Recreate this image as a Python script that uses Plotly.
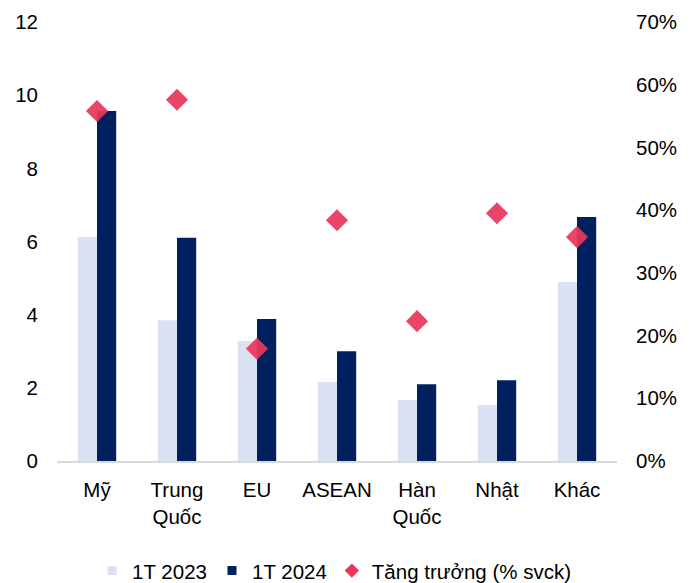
import plotly.graph_objects as go

categories = ["Mỹ", "Trung<br>Quốc", "EU", "ASEAN", "Hàn<br>Quốc", "Nhật", "Khác"]
v2023 = [6.12, 3.85, 3.28, 2.16, 1.67, 1.53, 4.89]
v2024 = [9.57, 6.10, 3.88, 3.00, 2.10, 2.21, 6.67]
growth = [0.558, 0.576, 0.179, 0.384, 0.223, 0.395, 0.357]
series_names = ["1T 2023", "1T 2024", "Tăng trưởng (% svck)"]

FONT = "Liberation Sans, Arial, sans-serif"
C23, C24, CG = "#D9E1F2", "#002060", "#E8375A"

fig = go.Figure()
fig.add_trace(go.Bar(x=categories, y=v2023, name=series_names[0], showlegend=False,
                     marker=dict(color=C23, line=dict(width=0))))
fig.add_trace(go.Bar(x=categories, y=v2024, name=series_names[1], showlegend=False,
                     marker=dict(color=C24, line=dict(width=0))))
fig.add_trace(go.Scatter(x=categories, y=growth, name=series_names[2], mode="markers", yaxis="y2",
                         showlegend=False,
                         marker=dict(symbol="diamond", size=17, color=CG, opacity=0.93, line=dict(width=0))))
# legend entries (small symbols, as in the reference)
for nm, sym, col in [(series_names[0], "square", C23), (series_names[1], "square", C24),
                     (series_names[2], "diamond", CG)]:
    fig.add_trace(go.Scatter(x=[None], y=[None], name=nm, mode="markers",
                             marker=dict(symbol=sym, size=9 if sym == "square" else 11, color=col,
                                         line=dict(width=0))))

fig.update_layout(
    width=699, height=583,
    margin=dict(l=57, r=82, t=22, b=122, autoexpand=False),
    paper_bgcolor="white", plot_bgcolor="white",
    font=dict(family=FONT, size=20.5, color="#000000"),
    barmode="group", bargap=0.52, bargroupgap=0,
    showlegend=True,
    legend=dict(orientation="h", xref="container", yref="container", x=0.478, xanchor="center",
                y=0.021, yanchor="middle", font=dict(size=20.5), itemwidth=30, traceorder="normal"),
    xaxis=dict(showline=True, linecolor="#D9D9D9", linewidth=1.5, ticks="", showgrid=False,
               tickfont=dict(size=20.5), ticklabelstandoff=10, automargin=False),
    yaxis=dict(range=[0, 12], dtick=2, showgrid=False, zeroline=False, showline=False,
               tickfont=dict(size=20.5), ticklabelstandoff=18, automargin=False),
    yaxis2=dict(range=[0, 0.7], dtick=0.1, tickformat=".0%", overlaying="y", side="right",
                showgrid=False, zeroline=False, showline=False, tickfont=dict(size=20.5),
                ticklabelstandoff=18, automargin=False),
)
fig.write_html("out.html", config={"displayModeBar": False},
               post_script="document.body.style.margin='0';document.body.style.overflow='hidden';")
